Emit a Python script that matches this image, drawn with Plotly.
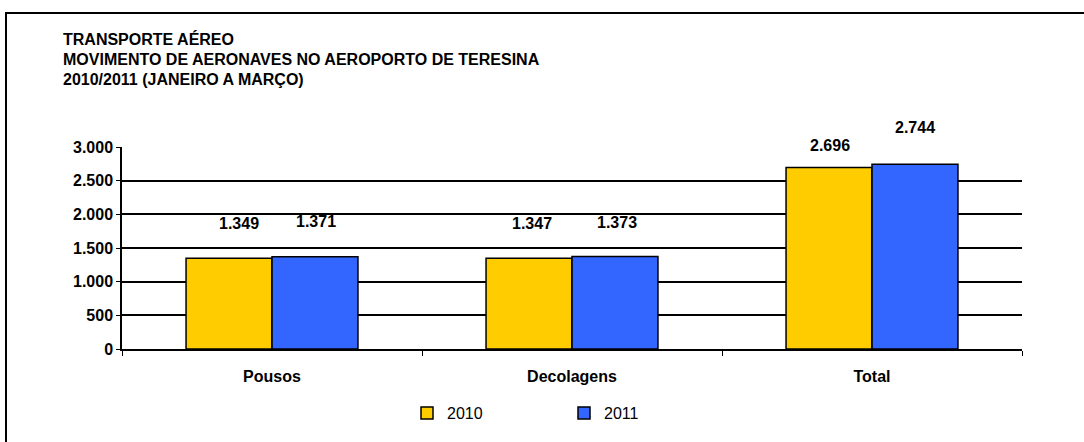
import plotly.graph_objects as go

categories = ["Pousos", "Decolagens", "Total"]
values_2010 = [1349, 1347, 2696]
values_2011 = [1371, 1373, 2744]
labels_2010 = ["1.349", "1.347", "2.696"]
labels_2011 = ["1.371", "1.373", "2.744"]
tick_vals = [0, 500, 1000, 1500, 2000, 2500, 3000]
tick_text = ["0", "500", "1.000", "1.500", "2.000", "2.500", "3.000"]

FONT = "Liberation Sans, Arial, sans-serif"
FS = 16

PL, PT, PR, PB = 122, 147, 1022, 352  # plot area in page pixels
PW, PH = PR - PL, PB - PT


def px_x(x):
    return (x - PL) / PW


def px_y(y):
    return (PB - y) / PH


fig = go.Figure()
fig.add_trace(go.Bar(name="2010", x=categories, y=values_2010,
                     marker=dict(color="#FFCC00", line=dict(color="black", width=1.5))))
fig.add_trace(go.Bar(name="2011", x=categories, y=values_2011,
                     marker=dict(color="#3366FF", line=dict(color="black", width=1.5))))

# data labels (Excel-like offsets)
xs_2010 = [-33, -40, -42]
xs_2011 = [44, 45, 43]
ys_2010 = [35, 35, 22]
ys_2011 = [35, 34, 37]
for i, c in enumerate(categories):
    fig.add_annotation(x=c, y=values_2010[i], text=labels_2010[i], showarrow=False,
                       xshift=xs_2010[i], yshift=ys_2010[i], yanchor="middle",
                       font=dict(family=FONT, size=FS, color="black", weight="bold"))
    fig.add_annotation(x=c, y=values_2011[i], text=labels_2011[i], showarrow=False,
                       xshift=xs_2011[i], yshift=ys_2011[i], yanchor="middle",
                       font=dict(family=FONT, size=FS, color="black", weight="bold"))

# title lines
title_lines = ["TRANSPORTE AÉREO",
               "MOVIMENTO DE AERONAVES NO AEROPORTO DE TERESINA",
               "2010/2011 (JANEIRO A MARÇO)"]
for j, t in enumerate(title_lines):
    fig.add_annotation(xref="paper", yref="paper", x=px_x(61), y=px_y(37.5 + 20.5 * j),
                       text=t, showarrow=False, xanchor="left", yanchor="middle",
                       font=dict(family=FONT, size=FS, color="black", weight="bold"))

# outer frame
fig.add_shape(type="rect", xref="paper", yref="paper",
              x0=px_x(6), x1=px_x(1100),
              y0=px_y(470), y1=px_y(11),
              line=dict(color="black", width=2), layer="below")

fig.update_layout(
    width=1084, height=442,
    margin=dict(l=PL, r=1084 - PR, t=PT, b=442 - PB),
    paper_bgcolor="white", plot_bgcolor="white",
    barmode="group", bargap=0.427, bargroupgap=0,
    font=dict(family=FONT, size=FS, color="black"),
    showlegend=True,
    legend=dict(orientation="h", x=px_x(421 - 14), xanchor="left", y=px_y(417), yanchor="middle",
                font=dict(family=FONT, size=FS, color="black"),
                itemwidth=30, traceorder="normal", entrywidth=112),
)
fig.update_xaxes(showline=True, linecolor="black", linewidth=1.5, ticks="outside",
                 tickson="boundaries", ticklen=5, tickcolor="black", ticklabelstandoff=12,
                 tickfont=dict(family=FONT, size=FS, color="black", weight="bold"),
                 showgrid=False)
fig.update_yaxes(range=[0, 3000], tickvals=tick_vals, ticktext=tick_text,
                 showline=True, linecolor="black", linewidth=1.5, ticks="outside",
                 ticklen=4, tickcolor="black",
                 showgrid=True, gridcolor="black", gridwidth=1.5, zeroline=False,
                 tickfont=dict(family=FONT, size=FS, color="black", weight="bold"))

fig.write_html("out.html", config={"displayModeBar": False},
               post_script="document.body.style.margin='0px';document.body.style.overflow='hidden';")
